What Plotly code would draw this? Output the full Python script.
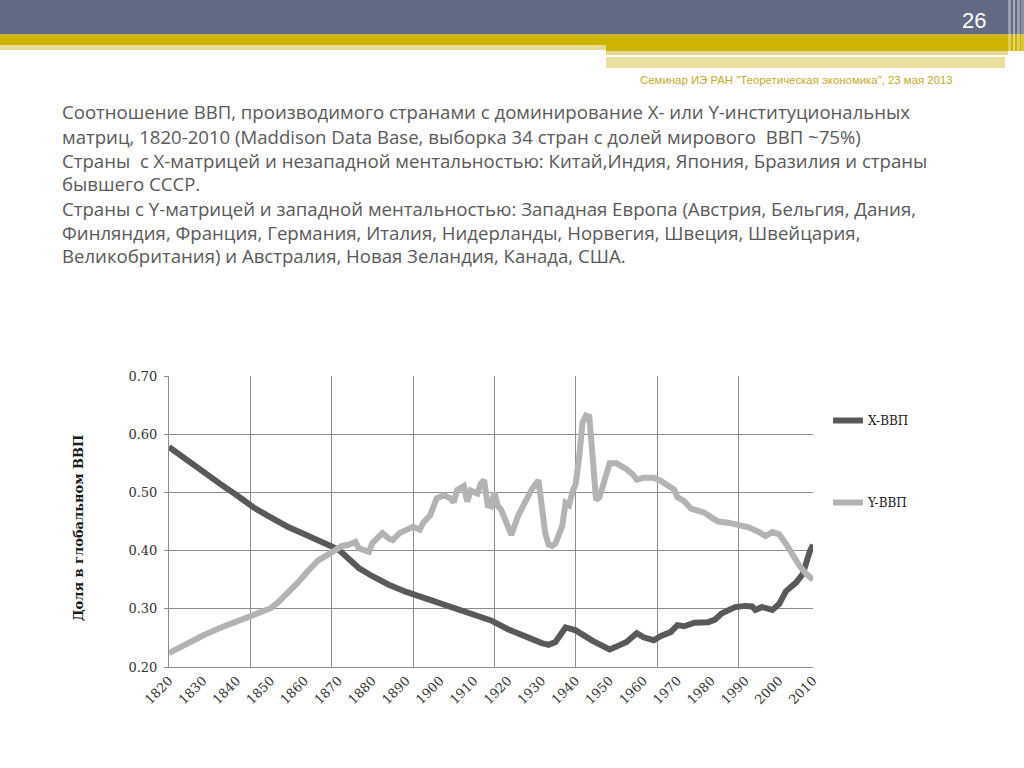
import plotly.graph_objects as go

# ---------------- data ----------------
x_years = [1820, 1825, 1830, 1835, 1840, 1845, 1850, 1855, 1860, 1865, 1870, 1873, 1876, 1880, 1885,
           1890, 1895, 1900, 1905, 1910, 1915, 1920, 1925, 1930, 1932, 1934, 1937, 1940, 1945,
           1950, 1952, 1955, 1958, 1960, 1963, 1965, 1968, 1970, 1972, 1975, 1979, 1981, 1983,
           1987, 1990, 1992, 1993, 1995, 1998, 2000, 2002, 2005, 2007, 2008, 2009, 2010]
x_share = [0.578, 0.556, 0.536, 0.515, 0.495, 0.474, 0.457, 0.441, 0.428, 0.415, 0.402, 0.386,
           0.370, 0.356, 0.341, 0.329, 0.319, 0.310, 0.298, 0.289, 0.280, 0.265, 0.252, 0.241,
           0.238, 0.243, 0.268, 0.263, 0.245, 0.230, 0.235, 0.243, 0.258, 0.251, 0.246, 0.253,
           0.260, 0.272, 0.270, 0.276, 0.277, 0.281, 0.292, 0.303, 0.305, 0.304, 0.298, 0.303,
           0.298, 0.308, 0.330, 0.345, 0.360, 0.380, 0.398, 0.410]

y_years = [1820, 1825, 1830, 1835, 1840, 1845, 1850, 1852, 1855, 1858, 1861, 1864, 1868, 1871,
           1873, 1875, 1876, 1878, 1879, 1880, 1882, 1883, 1885, 1886, 1888, 1890, 1892, 1894,
           1895, 1897, 1899, 1901, 1903, 1904, 1905, 1907, 1908, 1909, 1911, 1912, 1913, 1914,
           1915, 1916, 1917, 1918, 1920, 1921, 1923, 1925, 1927, 1929, 1930, 1931, 1932, 1933,
           1934, 1936, 1937, 1938, 1939, 1940, 1941, 1942, 1943, 1944, 1945, 1946, 1947, 1948,
           1949, 1950, 1952, 1954, 1955, 1957, 1958, 1960, 1962, 1963, 1965, 1967, 1969, 1970,
           1972, 1974, 1976, 1978, 1980, 1982, 1985, 1988, 1991, 1994, 1996, 1998, 2000, 2002,
           2004, 2006, 2008, 2010]
y_share = [0.224, 0.240, 0.254, 0.267, 0.279, 0.290, 0.301, 0.310, 0.327, 0.345, 0.365, 0.383,
           0.397, 0.408, 0.410, 0.415, 0.404, 0.400, 0.398, 0.413, 0.427, 0.430, 0.420, 0.418,
           0.430, 0.437, 0.441, 0.436, 0.448, 0.460, 0.490, 0.495, 0.490, 0.483, 0.504, 0.511,
           0.484, 0.503, 0.498, 0.515, 0.521, 0.478, 0.476, 0.500, 0.477, 0.470, 0.443, 0.427,
           0.460, 0.485, 0.505, 0.521, 0.478, 0.430, 0.410, 0.408, 0.412, 0.442, 0.482, 0.478,
           0.500, 0.515, 0.560, 0.620, 0.632, 0.630, 0.560, 0.487, 0.492, 0.512, 0.530, 0.550,
           0.550, 0.545, 0.540, 0.530, 0.522, 0.525, 0.526, 0.525, 0.520, 0.513, 0.505, 0.492,
           0.485, 0.472, 0.468, 0.465, 0.457, 0.450, 0.448, 0.443, 0.440, 0.432, 0.425, 0.432,
           0.428, 0.412, 0.392, 0.374, 0.360, 0.350]

series_names = ["X-ВВП", "Y-ВВП"]
y_ticks = [0.20, 0.30, 0.40, 0.50, 0.60, 0.70]
x_label_start, x_label_step = 1820, 10
grid_start, grid_step = 1820, 24
y_title = "Доля в глобальном ВВП"

title_lines = [
    "Соотношение ВВП, производимого странами с доминирование Х- или Y-институциональных",
    "матриц, 1820-2010 (Maddison Data Base, выборка 34 стран с долей мирового \u00a0ВВП ~75%)",
    "Страны \u00a0с Х-матрицей и незападной ментальностью: Китай,Индия, Япония, Бразилия и страны",
    "бывшего СССР.",
    "Страны с Y-матрицей и западной ментальностью: Западная Европа (Австрия, Бельгия, Дания,",
    "Финляндия, Франция, Германия, Италия, Нидерланды, Норвегия, Швеция, Швейцария,",
    "Великобритания) и Австралия, Новая Зеландия, Канада, США.",
]
seminar_text = "Семинар ИЭ РАН \"Теоретическая экономика\", 23 мая 2013"
slide_number = "26"

# ---------------- layout helpers ----------------
W, H = 1024, 768
PL, PR, PT, PB = 169, 813, 376, 667


def px(x):
    return (x - PL) / (PR - PL)


def py(y):
    return (PB - y) / (PB - PT)


SERIF = "DejaVu Serif"
fig = go.Figure()

fig.add_trace(go.Scatter(x=x_years, y=x_share, mode="lines", name=series_names[0],
                         line=dict(color="#595959", width=6), legendgroup="a",
                         xaxis="x"))
fig.add_trace(go.Scatter(x=y_years, y=y_share, mode="lines", name=series_names[1],
                         line=dict(color="#b3b3b3", width=6), legendgroup="b",
                         xaxis="x2"))

shapes = []


def rect(x0, y0, x1, y1, color, opacity=1.0):
    shapes.append(dict(type="rect", xref="paper", yref="paper", x0=px(x0), x1=px(x1),
                       y0=py(y1), y1=py(y0), fillcolor=color, line=dict(width=0),
                       opacity=opacity, layer="above"))


# header bands
rect(0, 0, W, 34, "#636a84")
rect(0, 34, W, 36, "#c9b52a")
rect(0, 36, 606, 45, "#cdb400")
rect(0, 45, 606, 50, "#e9dc96")
rect(606, 36, W, 51, "#cdb400")
rect(606, 51, 1008, 55, "#e6d78c")
rect(606, 57, 1005, 68, "#ebdf9e")
# right-edge vertical stripes
rect(1008, 0, 1011, 60, "#ffffff", 0.35)
rect(1013, 0, 1015, 60, "#ffffff", 0.45)
rect(1017, 0, 1020, 60, "#ffffff", 0.35)
rect(1021, 0, 1024, 60, "#ffffff", 0.25)

annotations = []
annotations.append(dict(text=slide_number, xref="paper", yref="paper", x=px(988), y=py(20),
                        xanchor="right", yanchor="middle", showarrow=False,
                        font=dict(family="Liberation Sans", size=22, color="#ffffff")))
annotations.append(dict(text=seminar_text, xref="paper", yref="paper", x=px(955), y=py(80),
                        xanchor="right", yanchor="middle", showarrow=False,
                        font=dict(family="Liberation Sans", size=11.4, color="#c4ab2c")))
line_y = [111, 136, 160, 184, 208, 232, 256]
for t, yy in zip(title_lines, line_y):
    annotations.append(dict(text=t, xref="paper", yref="paper", x=px(60), y=py(yy),
                            xanchor="left", yanchor="middle", showarrow=False,
                            font=dict(family="Open Sans", size=18.6, color="#595959")))
annotations.append(dict(text="<b>" + y_title + "</b>", xref="paper", yref="paper", x=px(78),
                        y=py(528), xanchor="center", yanchor="middle", textangle=-90,
                        showarrow=False, font=dict(family=SERIF, size=13, color="#1a1a1a")))

fig.update_layout(
    width=W, height=H,
    margin=dict(l=PL, r=W - PR, t=PT, b=H - PB, pad=0),
    paper_bgcolor="#ffffff", plot_bgcolor="#ffffff",
    showlegend=True,
    legend=dict(x=px(828), y=py(406), xanchor="left", yanchor="top",
                font=dict(family=SERIF, size=12, color="#1a1a1a"),
                tracegroupgap=63, bgcolor="rgba(0,0,0,0)"),
    xaxis=dict(range=[1820, 2010], tickmode="linear", tick0=x_label_start, dtick=x_label_step,
               tickangle=-45, showgrid=False, zeroline=False, showline=True,
               linecolor="#8c8c8c", linewidth=1, ticks="",
               tickfont=dict(family=SERIF, size=13, color="#333333")),
    xaxis2=dict(range=[1820, 2010], overlaying="x", anchor="y", tickmode="linear",
                tick0=grid_start, dtick=grid_step, showgrid=True, gridcolor="#8c8c8c",
                gridwidth=1, showticklabels=False, zeroline=False, showline=False, ticks=""),
    yaxis=dict(range=[0.2, 0.7], tickvals=y_ticks, tickformat=".2f", showgrid=True,
               gridcolor="#8c8c8c", gridwidth=1, zeroline=False, showline=True,
               linecolor="#8c8c8c", linewidth=1, ticks="outside", ticklen=4,
               tickcolor="#8c8c8c", ticklabelstandoff=4,
               tickfont=dict(family=SERIF, size=13, color="#333333")),
    shapes=shapes,
    annotations=annotations,
)

fig.write_html("out.html", config={"displayModeBar": False},
               post_script="document.body.style.margin='0px';")
